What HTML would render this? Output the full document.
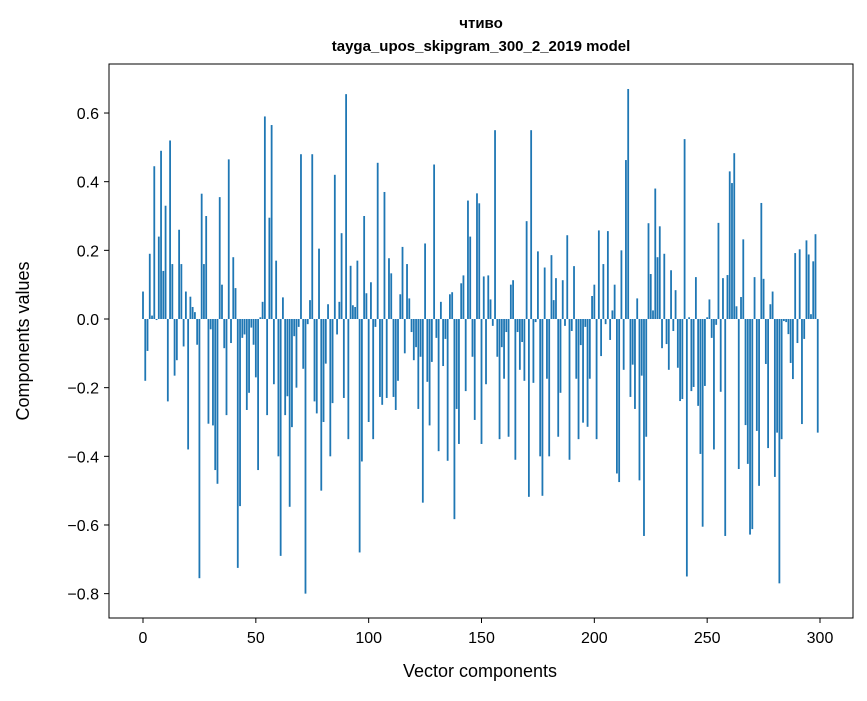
<!DOCTYPE html>
<html><head><meta charset="utf-8"><style>
body{margin:0;background:#fff;}
svg{font-family:"Liberation Sans","DejaVu Sans",sans-serif;}
</style></head><body>
<svg id="chart" width="867" height="696">
<text x="481" y="28" text-anchor="middle" font-size="15" font-weight="bold">чтиво</text>
<text x="481" y="51" text-anchor="middle" font-size="15" font-weight="bold">tayga_upos_skipgram_300_2_2019 model</text>
<text x="480" y="677" text-anchor="middle" font-size="18">Vector components</text>
<text transform="translate(29,341) rotate(-90)" text-anchor="middle" font-size="18">Components values</text>
<g id="bars"></g>
<g id="axes"></g>
<rect x="109" y="64" width="744" height="554" fill="none" stroke="#000" stroke-width="1"/>
</svg>
<script>
const values = [0.08,-0.18,-0.093,0.19,0.01,0.445,-0.003,0.24,0.49,0.14,0.33,-0.24,0.52,0.16,-0.165,-0.12,0.26,0.16,-0.08,0.08,-0.38,0.065,0.035,0.02,-0.075,-0.755,0.365,0.16,0.3,-0.305,-0.03,-0.31,-0.44,-0.48,0.355,0.1,-0.085,-0.28,0.465,-0.07,0.18,0.09,-0.725,-0.545,-0.055,-0.045,-0.265,-0.215,-0.025,-0.075,-0.17,
-0.44,0.005,0.05,0.59,-0.28,0.295,0.565,-0.19,0.17,-0.40,-0.69,0.063,-0.28,-0.225,-0.547,-0.315,-0.05,-0.2,-0.023,0.48,-0.145,-0.8,-0.015,0.055,0.48,-0.24,-0.275,0.205,-0.5,-0.3,-0.13,0.043,-0.4,-0.245,0.42,-0.045,0.05,0.25,-0.23,0.655,-0.35,0.155,0.04,0.035,0.17,-0.68,-0.415,0.3,0.075,-0.3,
0.107,-0.35,-0.023,0.455,-0.227,-0.25,0.37,-0.23,0.177,0.133,-0.227,-0.265,-0.18,0.072,0.21,-0.1,0.16,0.06,-0.038,-0.12,-0.082,-0.262,-0.11,-0.535,0.22,-0.183,-0.31,-0.125,0.45,-0.055,-0.385,0.05,-0.137,-0.058,-0.413,0.072,0.078,-0.583,-0.262,-0.364,0.104,0.127,-0.21,0.345,0.24,-0.11,-0.294,0.366,0.337,-0.364,
0.124,-0.19,0.127,0.057,-0.02,0.55,-0.11,-0.35,-0.082,-0.174,-0.038,-0.343,0.1,0.113,-0.41,-0.038,-0.148,-0.067,-0.18,0.285,-0.518,0.55,-0.186,-0.009,0.197,-0.4,-0.515,0.15,-0.174,-0.4,0.186,0.055,0.119,-0.343,-0.215,0.113,-0.02,0.244,-0.41,-0.035,0.154,-0.174,-0.35,-0.076,-0.302,-0.023,-0.314,-0.174,0.067,0.1,
-0.35,0.258,-0.108,0.16,-0.015,0.256,-0.061,0.025,0.1,-0.45,-0.475,0.2,-0.148,0.463,0.67,-0.227,-0.133,-0.262,0.06,-0.47,-0.165,-0.632,-0.343,0.279,0.131,0.025,0.38,0.18,0.27,-0.085,0.19,-0.073,-0.148,0.142,-0.035,0.084,-0.142,-0.239,-0.233,0.524,-0.75,0.005,-0.21,-0.198,0.122,-0.253,-0.393,-0.605,-0.195,0.005,
0.057,-0.055,-0.38,-0.017,0.28,-0.212,0.119,-0.632,0.128,0.43,0.396,0.483,0.037,-0.437,0.064,0.232,-0.309,-0.422,-0.628,-0.612,0.122,-0.326,-0.486,0.338,0.117,-0.131,-0.376,0.043,0.08,-0.46,-0.331,-0.77,-0.35,-0.006,-0.009,-0.044,-0.128,-0.175,0.192,-0.07,0.203,-0.306,-0.058,0.229,0.188,0.014,0.168,0.247,-0.331];
const xTicks = [0,50,100,150,200,250,300];
const yTicks = [-0.8,-0.6,-0.4,-0.2,0.0,0.2,0.4,0.6];

const NS = "http://www.w3.org/2000/svg";
const xs = v => 143 + v * (820 - 143) / 300;
const ys = v => 319 - v * 343.3;
const bars = document.getElementById('bars');
values.forEach((v, i) => {
  const r = document.createElementNS(NS, 'rect');
  const y0 = ys(Math.max(v, 0)), y1 = ys(Math.min(v, 0));
  r.setAttribute('x', xs(i) - 0.9);
  r.setAttribute('width', 1.8);
  r.setAttribute('y', y0);
  r.setAttribute('height', Math.max(y1 - y0, 0.3));
  r.setAttribute('fill', '#1f77b4');
  
  
  bars.appendChild(r);
});
const axes = document.getElementById('axes');
xTicks.forEach(t => {
  const l = document.createElementNS(NS, 'line');
  l.setAttribute('x1', xs(t)); l.setAttribute('x2', xs(t));
  l.setAttribute('y1', 618); l.setAttribute('y2', 623);
  l.setAttribute('stroke', '#000');
  
  
  axes.appendChild(l);
  const tx = document.createElementNS(NS, 'text');
  tx.setAttribute('x', xs(t)); tx.setAttribute('y', 643);
  tx.setAttribute('text-anchor', 'middle'); tx.setAttribute('font-size', '16');
  tx.textContent = t;
  
  
  axes.appendChild(tx);
});
yTicks.forEach(t => {
  const l = document.createElementNS(NS, 'line');
  l.setAttribute('x1', 104); l.setAttribute('x2', 109);
  l.setAttribute('y1', ys(t)); l.setAttribute('y2', ys(t));
  l.setAttribute('stroke', '#000');
  
  
  axes.appendChild(l);
  const tx = document.createElementNS(NS, 'text');
  tx.setAttribute('x', 99); tx.setAttribute('y', ys(t) + 6);
  tx.setAttribute('text-anchor', 'end'); tx.setAttribute('font-size', '16');
  tx.textContent = (t < 0 ? '\u2212' : '') + Math.abs(t).toFixed(1);
  
  
  axes.appendChild(tx);
});
</script>
</body></html>
